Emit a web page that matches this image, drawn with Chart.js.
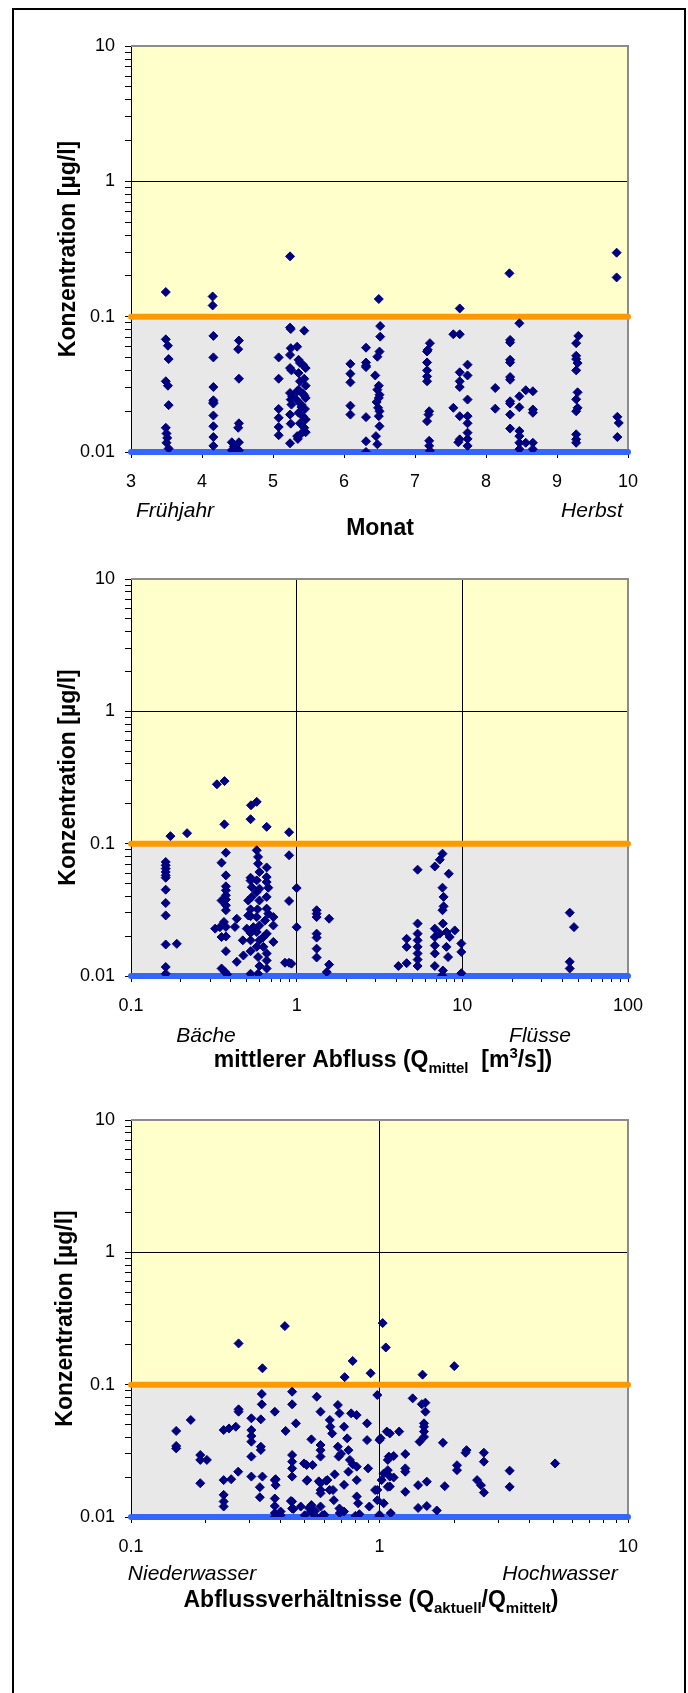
<!DOCTYPE html>
<html>
<head>
<meta charset="utf-8">
<script src="https://cdn.jsdelivr.net/npm/chart.js@4.4.0/dist/chart.umd.min.js"></script>
<style>
  html, body { margin: 0; padding: 0; background: #fff; }
  #seite { position: relative; width: 688px; height: 1693px; overflow: hidden; }
  #rahmen { position: absolute; left: 12px; top: 8px; width: 670px; height: 1700px; border: 2px solid #000; border-bottom: none; }
  canvas { position: absolute; left: 0; }
</style>
</head>
<body>
<div id="seite">
  <div id="rahmen"></div>
  <canvas id="chartMonat" width="688" height="545" style="top:0px"></canvas>
  <canvas id="chartAbfluss" width="688" height="545" style="top:545px"></canvas>
  <canvas id="chartVerh" width="688" height="603" style="top:1090px"></canvas>
</div>
<script>
// Grenzwerte (Linien)
var grenzwert = 0.1;
var bestimmungsgrenze = 0.01;

// y-Achse (alle drei Diagramme)
var konzTicks = [0.01, 0.02, 0.03, 0.04, 0.05, 0.06, 0.07, 0.08, 0.09,
                 0.1, 0.2, 0.3, 0.4, 0.5, 0.6, 0.7, 0.8, 0.9,
                 1, 2, 3, 4, 5, 6, 7, 8, 9, 10];
var konzLabels = ['0.01', '0.1', '1', '10'];

// Diagramm 1: Monat
var monatTicks = [3, 4, 5, 6, 7, 8, 9, 10];
var monatLabels = ['3', '4', '5', '6', '7', '8', '9', '10'];
var monat = [
  3.49, 4.15, 4.15, 5.24, 6.49, 7.63, 8.33, 9.84, 9.84,
  3.49, 3.52, 3.53, 3.49, 3.52, 3.53, 3.49, 3.50, 3.51, 3.50, 3.53,
  4.16, 4.16, 4.16, 4.16, 4.16, 4.16, 4.16, 4.16, 4.16, 4.16,
  4.52, 4.51, 4.52, 4.52, 4.51, 4.52, 4.52, 4.42, 4.42, 4.45,
  5.08, 5.08, 5.08, 5.08, 5.08, 5.08,
  5.24, 5.25, 5.25, 5.24, 5.24, 5.26, 5.24, 5.27, 5.25, 5.26, 5.24, 5.25, 5.24,
  5.34, 5.44, 5.36, 5.42, 5.46, 5.36, 5.44, 5.38, 5.46, 5.36, 5.42, 5.46, 5.34, 5.40,
  5.45, 5.36, 5.42, 5.46, 5.38, 5.44, 5.40, 5.34, 5.35, 5.38, 5.44, 5.34, 5.40, 5.46,
  6.09, 6.09, 6.09, 6.09, 6.09,
  6.31, 6.31, 6.31, 6.31, 6.31, 6.31, 6.31,
  6.51, 6.51, 6.50, 6.47, 6.44, 6.49, 6.47, 6.50, 6.49, 6.46, 6.48, 6.50, 6.49, 6.50, 6.45, 6.47,
  7.21, 7.18, 7.17, 7.17, 7.17, 7.17, 7.17, 7.20, 7.19, 7.17, 7.20, 7.20, 7.21,
  7.54, 7.63, 7.63, 7.63, 7.63, 7.54, 7.63, 7.63, 7.61,
  7.74, 7.74, 7.74, 7.74, 7.74, 7.74, 7.74, 7.74,
  8.13, 8.13,
  8.34, 8.34, 8.34, 8.34, 8.34, 8.34, 8.34, 8.34, 8.34, 8.34,
  8.47, 8.47, 8.47, 8.47, 8.47, 8.47, 8.47,
  8.56, 8.56,
  8.66, 8.66, 8.66, 8.66, 8.66,
  9.30, 9.27, 9.27, 9.27, 9.29, 9.27, 9.29, 9.27, 9.29, 9.27, 9.27, 9.27, 9.27,
  9.85, 9.87, 9.85
];
var konzMonat = [
  0.152, 0.141, 0.121, 0.279, 0.135, 0.115, 0.209, 0.297, 0.195,
  0.068, 0.061, 0.0486, 0.0333, 0.0309, 0.0222, 0.0151, 0.0137, 0.0127, 0.0117, 0.0106,
  0.0721, 0.050, 0.0302, 0.0241, 0.0233, 0.0228, 0.0186, 0.0155, 0.0129, 0.0111,
  0.0666, 0.0575, 0.0348, 0.0163, 0.0151, 0.0118, 0.0103, 0.0118, 0.0103, 0.0110,
  0.050, 0.0348, 0.0208, 0.0179, 0.0153, 0.0133,
  0.083, 0.081, 0.0585, 0.0522, 0.0417, 0.0401, 0.0273, 0.0258, 0.0244, 0.0224, 0.0189, 0.0162, 0.0116,
  0.060, 0.0788, 0.048, 0.0442, 0.0417, 0.0383, 0.0348, 0.0333, 0.0309, 0.0289, 0.0270, 0.0251, 0.0241, 0.0224,
  0.0208, 0.0195, 0.0184, 0.0174, 0.0163, 0.0151, 0.0137, 0.0131, 0.0125, 0.0455, 0.0262, 0.0280, 0.0215, 0.0140,
  0.0448, 0.0379, 0.0327, 0.0220, 0.0189,
  0.0590, 0.0458, 0.0433, 0.0424, 0.0181, 0.0120, 0.0100,
  0.0852, 0.0712, 0.0552, 0.0506, 0.0368, 0.0309, 0.0289, 0.0265, 0.0251, 0.0234, 0.0212, 0.0200, 0.0184, 0.0155, 0.0131, 0.0114,
  0.0637, 0.0569, 0.0553, 0.0459, 0.0401, 0.0362, 0.0333, 0.0200, 0.0189, 0.0169, 0.0121, 0.0111, 0.0102,
  0.0741, 0.0741, 0.0388, 0.0333, 0.0302, 0.0212, 0.0184, 0.0124, 0.0118,
  0.0442, 0.0368, 0.0244, 0.0184, 0.0163, 0.0139, 0.0125, 0.0111,
  0.0297, 0.0209,
  0.0673, 0.0645, 0.0480, 0.0459, 0.0358, 0.0342, 0.0237, 0.0228, 0.0189, 0.0149,
  0.0894, 0.0258, 0.0214, 0.0143, 0.0131, 0.0117, 0.0105,
  0.0286, 0.0117,
  0.0281, 0.0206, 0.0195, 0.0117, 0.0105,
  0.0721, 0.0637, 0.0514, 0.0486, 0.0454, 0.0401, 0.0276, 0.0245, 0.0212, 0.0200, 0.0135, 0.0124, 0.0117,
  0.0182, 0.0164, 0.0129
];

// Diagramm 2: mittlerer Abfluss
var abflussTicks = [0.1, 0.2, 0.3, 0.4, 0.5, 0.6, 0.7, 0.8, 0.9,
                    1, 2, 3, 4, 5, 6, 7, 8, 9,
                    10, 20, 30, 40, 50, 60, 70, 80, 90, 100];
var abflussLabels = ['0.1', '1', '10', '100'];
var abfluss = [
  0.173, 0.218, 0.330, 0.367, 0.366, 0.527, 0.530, 0.574, 0.659, 0.900,
  0.162, 0.162, 0.162, 0.162, 0.162, 0.162, 0.162, 0.162, 0.162, 0.162, 0.162, 0.162, 0.189,
  0.352, 0.374, 0.374, 0.374, 0.374, 0.374, 0.374, 0.374, 0.374, 0.352, 0.364, 0.322,
  0.344, 0.374, 0.435, 0.424, 0.352, 0.374, 0.374, 0.435, 0.352, 0.370, 0.380,
  0.527, 0.527, 0.536, 0.536, 0.527, 0.527, 0.527, 0.527, 0.527, 0.527, 0.477, 0.473, 0.500, 0.510, 0.510,
  0.574, 0.585, 0.585, 0.596, 0.574, 0.596, 0.574, 0.596, 0.580, 0.574, 0.596, 0.574, 0.596, 0.574, 0.585, 0.596, 0.585,
  0.659, 0.659, 0.659, 0.674, 0.659, 0.659, 0.674, 0.645, 0.723, 0.723, 0.723, 0.659, 0.659, 0.659, 0.659, 0.630, 0.630, 0.548,
  0.900, 0.900, 0.850, 0.900, 0.930, 1.00, 1.00,
  1.32, 1.32, 1.32, 1.32, 1.32, 1.32, 1.32, 1.57, 1.57, 1.52,
  5.37, 5.37, 5.37, 5.37, 5.37, 5.37, 5.37, 5.37, 4.61, 4.61, 4.61, 4.11,
  7.59, 7.31, 6.82, 8.28, 7.59, 7.71, 7.71, 7.59, 7.63, 6.82, 6.82, 6.82, 6.82, 6.82,
  7.31, 8.02, 8.39, 8.02, 8.20, 7.63, 7.56, 9.00, 9.86, 9.86, 9.86,
  44.5, 47.2, 44.5, 44.5
];
var konzAbfluss = [
  0.114, 0.120, 0.281, 0.297, 0.140, 0.153, 0.195, 0.207, 0.134, 0.122,
  0.0727, 0.0686, 0.0648, 0.0611, 0.0576, 0.0553, 0.0449, 0.0356, 0.0287, 0.0173, 0.0117, 0.0104, 0.0175,
  0.0718, 0.0855, 0.0576, 0.0476, 0.0444, 0.0407, 0.0378, 0.0342, 0.0314, 0.0372, 0.0256, 0.0228,
  0.0234, 0.0235, 0.0271, 0.0235, 0.0197, 0.0199, 0.0154, 0.0128, 0.0114, 0.0107, 0.0103,
  0.0553, 0.0526, 0.0469, 0.0396, 0.0319, 0.0283, 0.0211, 0.0186, 0.0154, 0.0104, 0.0143, 0.0186, 0.0228, 0.0287, 0.0372,
  0.0891, 0.0794, 0.0706, 0.0611, 0.0528, 0.0457, 0.0431, 0.0372, 0.0319, 0.0279, 0.0241, 0.0215, 0.0186, 0.0166, 0.0139, 0.0119, 0.0104,
  0.0661, 0.0559, 0.0513, 0.0465, 0.0396, 0.0323, 0.0296, 0.0263, 0.0279, 0.0241, 0.0181, 0.0209, 0.0148, 0.0131, 0.0114, 0.0166, 0.0197, 0.0234,
  0.0817, 0.0369, 0.0126, 0.0126, 0.0124, 0.0462, 0.0234,
  0.0314, 0.0296, 0.0279, 0.0209, 0.0195, 0.0161, 0.0138, 0.0271, 0.0122, 0.0107,
  0.0636, 0.0249, 0.0209, 0.0186, 0.0166, 0.0148, 0.0133, 0.0119, 0.0191, 0.0166, 0.0125, 0.0119,
  0.0840, 0.0756, 0.0672, 0.0593, 0.0465, 0.0396, 0.0336, 0.0314, 0.0249, 0.0228, 0.0197, 0.0170, 0.0148, 0.0119,
  0.0209, 0.0215, 0.0197, 0.0166, 0.0139, 0.0110, 0.0101, 0.0221, 0.0176, 0.0152, 0.0105,
  0.0301, 0.0234, 0.0128, 0.0114
];

// Diagramm 3: Abflussverhaeltnis
var verhTicks = [0.1, 0.2, 0.3, 0.4, 0.5, 0.6, 0.7, 0.8, 0.9,
                 1, 2, 3, 4, 5, 6, 7, 8, 9, 10];
var verhLabels = ['0.1', '1', '10'];
var verhaeltnis = [
  0.271, 0.416, 0.338, 0.780, 0.724, 0.921, 1.03, 1.06, 1.49, 2.00,
  0.152, 0.152, 0.152, 0.174, 0.190, 0.190, 0.202, 0.190, 0.236, 0.248, 0.264, 0.271, 0.271,
  0.236, 0.253, 0.236, 0.236, 0.236, 0.270,
  0.305, 0.305, 0.305, 0.305, 0.305, 0.305, 0.333, 0.333, 0.333, 0.338, 0.336, 0.336, 0.330, 0.330,
  0.379, 0.379, 0.379, 0.379, 0.379, 0.419, 0.445, 0.445, 0.461, 0.445, 0.445, 0.445, 0.445, 0.445, 0.445,
  0.482, 0.497, 0.512, 0.532, 0.532, 0.530, 0.559, 0.579, 0.579, 0.579, 0.579, 0.579, 0.579, 0.579,
  0.617, 0.631, 0.634, 0.645, 0.650, 0.655, 0.680, 0.690, 0.680, 0.685, 0.690, 0.692,
  0.720, 0.741, 0.750, 0.769, 0.760, 0.809, 0.810, 0.810, 0.810, 0.820,
  0.891, 0.891, 0.900, 0.910, 0.980, 0.980, 0.980, 1.01, 1.02, 1.04, 1.07, 1.09, 1.10, 1.10, 1.10,
  1.36, 1.48, 1.53, 1.53, 1.51, 1.51, 1.51, 1.51, 1.45, 1.80, 2.24, 2.22, 2.63, 2.63, 2.05, 2.05,
  3.34, 3.34, 5.09, 2.47, 2.56, 2.63, 1.83, 1.55, 1.43, 1.43, 1.55, 1.70,
  1.27, 1.27, 1.27, 1.27, 1.20, 1.14, 1.14, 1.08, 1.08, 1.08, 1.00, 1.04, 1.11, 0.96, 1.00,
  0.40, 0.40, 0.50, 0.55, 0.59, 0.72, 0.80, 0.83, 1.00,
  0.382, 0.382, 0.379, 0.440, 0.450, 0.509, 0.538, 0.510, 0.570, 0.610,
  0.580, 0.630, 0.520, 0.550, 0.600, 0.660, 0.720, 0.750, 0.780, 0.700
];
var konzVerh = [
  0.205, 0.277, 0.133, 0.151, 0.114, 0.122, 0.292, 0.191, 0.119, 0.138,
  0.0447, 0.0344, 0.0330, 0.0541, 0.0294, 0.0270, 0.0270, 0.0180, 0.0454, 0.0467, 0.0481, 0.0651, 0.0625,
  0.0190, 0.0193, 0.0147, 0.0131, 0.0120, 0.0220,
  0.0557, 0.0454, 0.0409, 0.0371, 0.0286, 0.0202, 0.0340, 0.0321, 0.0547, 0.0202, 0.0850, 0.0710, 0.0168, 0.0141,
  0.0625, 0.0190, 0.0138, 0.0121, 0.0107, 0.0447, 0.0885, 0.0710, 0.0510, 0.0294, 0.0262, 0.0233, 0.0202, 0.0131, 0.0116,
  0.0120, 0.0254, 0.0190, 0.0386, 0.0123, 0.0110, 0.0811, 0.0625, 0.0350, 0.0180, 0.0151, 0.0120, 0.0320, 0.0286,
  0.0190, 0.0541, 0.0481, 0.0428, 0.0160, 0.0134, 0.0702, 0.0607, 0.0340, 0.0286, 0.0116, 0.0107,
  0.0481, 0.0393, 0.0320, 0.0607, 0.0270, 0.0589, 0.0240, 0.0190, 0.0143, 0.0127,
  0.0510, 0.0381, 0.0233, 0.0120, 0.0835, 0.0160, 0.0134, 0.0393, 0.0190, 0.0213, 0.0442, 0.0286, 0.0428, 0.0202, 0.0170,
  0.0788, 0.0712, 0.0731, 0.0625, 0.0510, 0.0481, 0.0442, 0.0403, 0.0371, 0.0364, 0.0320, 0.0306, 0.0306, 0.0262, 0.0246, 0.0226,
  0.0224, 0.0169, 0.0254, 0.0190, 0.0174, 0.0153, 0.0171, 0.0185, 0.0174, 0.0117, 0.0121, 0.0112,
  0.0299, 0.0233, 0.0220, 0.0155, 0.0442, 0.0289, 0.0199, 0.0270, 0.0226, 0.0169, 0.0381, 0.0127, 0.0107, 0.0160, 0.0104,
  0.0103, 0.0110, 0.0103, 0.0102, 0.0103, 0.0110, 0.0102, 0.0105, 0.0101,
  0.0193, 0.0174, 0.0100, 0.0132, 0.0115, 0.0247, 0.0247, 0.0188, 0.0186, 0.0188,
  0.0160, 0.0160, 0.0117, 0.0111, 0.0104, 0.0210, 0.0175, 0.0220, 0.0250, 0.0300
];

Chart.defaults.font.family = "'Liberation Sans', Arial, sans-serif";
Chart.defaults.color = '#000';

var schrift = "'Liberation Sans', Arial, sans-serif";

function beschriftung(wert, labels) {
  var l = labels.find(function (s) { return Math.abs(Number(s) - wert) < 1e-9; });
  return l === undefined ? '' : l;
}

function punkte(xs, ys) {
  var n = Math.min(xs.length, ys.length);
  var out = [];
  for (var i = 0; i < n; i++) out.push({ x: xs[i], y: ys[i] });
  return out;
}

// Hintergrund, Rahmen und Zusatztexte
var blattPlugin = {
  id: 'blatt',
  beforeDraw: function (chart, args, opts) {
    var ctx = chart.ctx, a = chart.chartArea, y = chart.scales.y;
    var yg = y.getPixelForValue(grenzwert);
    ctx.save();
    ctx.fillStyle = '#FFFFCC';
    ctx.fillRect(a.left, a.top, a.right - a.left, yg - a.top);
    ctx.fillStyle = '#E8E8E8';
    ctx.fillRect(a.left, yg, a.right - a.left, a.bottom - yg);
    ctx.restore();
  },
  beforeDatasetsDraw: function (chart) {
    var ctx = chart.ctx, a = chart.chartArea;
    ctx.save();
    ctx.strokeStyle = '#8C8C8C';
    ctx.lineWidth = 2;
    ctx.beginPath();
    ctx.moveTo(a.left, a.top);
    ctx.lineTo(a.right, a.top);
    ctx.lineTo(a.right, a.bottom);
    ctx.stroke();
    ctx.restore();
  },
  afterDraw: function (chart, args, opts) {
    var ctx = chart.ctx;
    ctx.save();
    ctx.fillStyle = '#000';
    ctx.textBaseline = 'alphabetic';
    // kursive Hinweise
    ctx.font = 'italic 21px ' + schrift;
    ctx.textAlign = 'center';
    (opts.notizen || []).forEach(function (n) {
      ctx.fillText(n.text, n.x, n.y);
    });
    // Achsentitel mit Index/Exponent
    var t = opts.titel;
    if (t) {
      ctx.textAlign = 'left';
      var breite = 0;
      t.teile.forEach(function (p) {
        ctx.font = (p.klein ? 'bold 15px ' : 'bold 23px ') + schrift;
        p.w = ctx.measureText(p.t).width;
        breite += p.w;
      });
      var x = t.x - breite / 2;
      t.teile.forEach(function (p) {
        ctx.font = (p.klein ? 'bold 15px ' : 'bold 23px ') + schrift;
        ctx.fillText(p.t, x, t.y + (p.dy || 0));
        x += p.w;
      });
    }
    ctx.restore();
  }
};

function yAchse(titelAbstand) {
  return {
    type: 'logarithmic',
    position: 'left',
    min: 0.01,
    max: 10,
    afterBuildTicks: function (axis) {
      axis.ticks = konzTicks.map(function (v) { return { value: v }; });
    },
    afterFit: function (scale) { scale.width = 131; },
    ticks: {
      autoSkip: false,
      padding: 10,
      font: { size: 18 },
      color: '#000',
      callback: function (v) { return beschriftung(v, konzLabels); }
    },
    grid: {
      color: function (c) { return (c.tick && c.tick.value === 1) ? '#000' : 'rgba(0,0,0,0)'; },
      tickColor: '#000',
      tickLength: 6,
      lineWidth: 1
    },
    border: { display: true, color: '#000', width: 1 },
    title: {
      display: true,
      text: 'Konzentration [µg/l]',
      color: '#000',
      font: { size: 23, weight: 'bold' },
      padding: { top: titelAbstand, bottom: 0 }
    }
  };
}

function xAchse(typ, min, max, werte, labels, linien, hoehe) {
  return {
    type: typ,
    position: 'bottom',
    min: min,
    max: max,
    afterBuildTicks: function (axis) {
      axis.ticks = werte.map(function (v) { return { value: v }; });
    },
    afterFit: function (scale) { scale.height = hoehe; },
    ticks: {
      autoSkip: false,
      maxRotation: 0,
      padding: 13,
      font: { size: 18 },
      color: '#000',
      callback: function (v) { return beschriftung(v, labels); }
    },
    grid: {
      color: function (c) { return (c.tick && linien.indexOf(c.tick.value) >= 0) ? '#000' : 'rgba(0,0,0,0)'; },
      tickColor: '#000',
      tickLength: 6,
      lineWidth: 1
    },
    border: { display: true, color: '#000', width: 1 }
  };
}

function linie(xmin, xmax, wert, farbe) {
  return {
    type: 'line',
    data: [{ x: xmin, y: wert }, { x: xmax, y: wert }],
    showLine: true,
    borderColor: farbe,
    borderWidth: 6,
    borderCapStyle: 'round',
    pointRadius: 0,
    clip: false,
    order: 2
  };
}

function diagramm(id, xs, ys, xmin, xmax, xAxis, padTop, titelAbstand, blatt) {
  return new Chart(document.getElementById(id), {
    type: 'scatter',
    data: {
      datasets: [
        {
          data: punkte(xs, ys),
          pointStyle: 'rectRot',
          pointRadius: 4.5,
          pointBorderWidth: 1,
          backgroundColor: '#000080',
          borderColor: '#000080',
          order: 0
        },
        linie(xmin, xmax, grenzwert, '#FF9900'),
        linie(xmin, xmax, bestimmungsgrenze, '#3366FF')
      ]
    },
    options: {
      responsive: false,
      animation: false,
      events: [],
      devicePixelRatio: 1,
      layout: { padding: { left: 0, right: 60, top: padTop, bottom: 0 } },
      scales: { x: xAxis, y: yAchse(titelAbstand) },
      plugins: {
        legend: { display: false },
        tooltip: { enabled: false },
        blatt: blatt
      }
    },
    plugins: [blattPlugin]
  });
}

diagramm('chartMonat', monat, konzMonat, 3, 10,
  xAchse('linear', 3, 10, monatTicks, monatLabels, [], 93), 46, 55, {
    notizen: [{ text: 'Frühjahr', x: 175, y: 517 }, { text: 'Herbst', x: 592, y: 517 }],
    titel: { x: 380, y: 535, teile: [{ t: 'Monat' }] }
  });

diagramm('chartAbfluss', abfluss, konzAbfluss, 0.1, 100,
  xAchse('logarithmic', 0.1, 100, abflussTicks, abflussLabels, [1, 10], 114), 34, 55, {
    notizen: [{ text: 'Bäche', x: 206, y: 497 }, { text: 'Flüsse', x: 540, y: 497 }],
    titel: { x: 383, y: 522, teile: [
      { t: 'mittlerer Abfluss (Q' },
      { t: 'mittel', klein: true, dy: 6 },
      { t: '  [m' },
      { t: '3', klein: true, dy: -9 },
      { t: '/s])' }
    ] }
  });

diagramm('chartVerh', verhaeltnis, konzVerh, 0.1, 10,
  xAchse('logarithmic', 0.1, 10, verhTicks, verhLabels, [1], 176), 30, 52, {
    notizen: [{ text: 'Niederwasser', x: 192, y: 490 }, { text: 'Hochwasser', x: 560, y: 490 }],
    titel: { x: 371, y: 517, teile: [
      { t: 'Abflussverhältnisse (Q' },
      { t: 'aktuell', klein: true, dy: 6 },
      { t: '/Q' },
      { t: 'mittelt', klein: true, dy: 6 },
      { t: ')' }
    ] }
  });
</script>
</body>
</html>
